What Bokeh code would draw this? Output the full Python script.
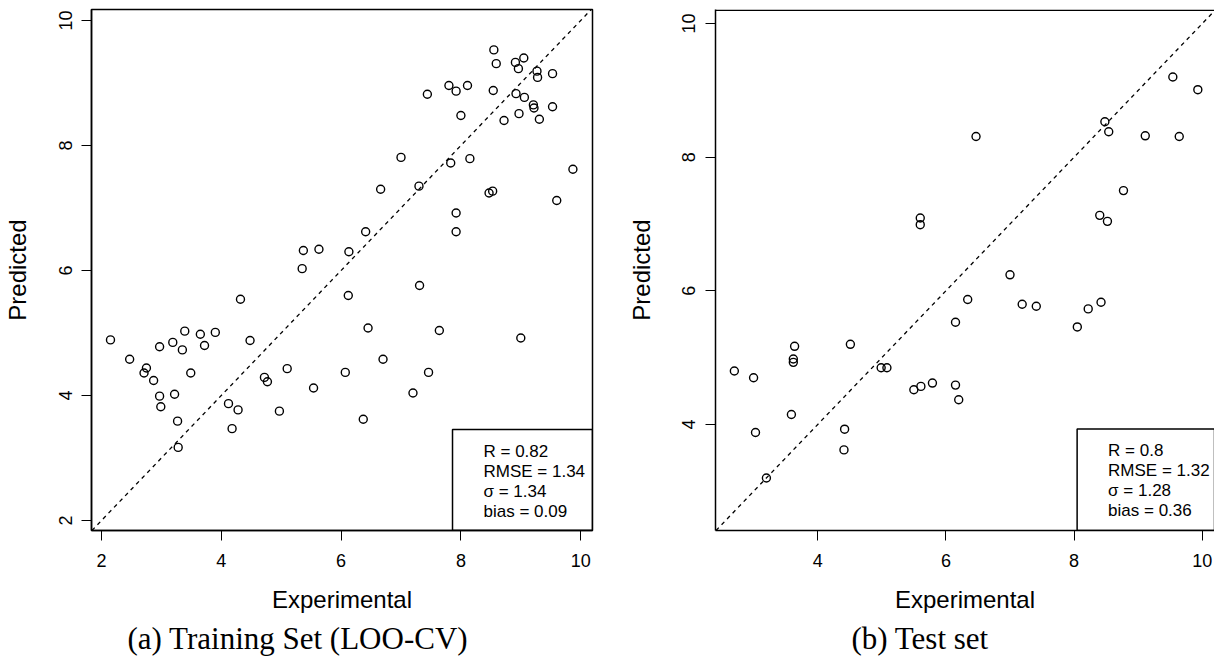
from bokeh.plotting import figure
from bokeh.models import Range1d, Slope, Label, BoxAnnotation, FixedTicker, Span, Title
from bokeh.layouts import row
from bokeh.embed import file_html
from bokeh.resources import INLINE

# ---------------- data ----------------
train_exp = [8.55, 8.59, 8.91, 9.05, 8.96, 9.27, 9.28, 9.53, 7.80, 7.92, 8.11, 7.44, 8.54, 8.92,
             9.06, 9.21, 9.22, 9.53, 8.00, 8.97, 8.72, 9.31, 7.00, 7.83, 8.15, 9.87, 6.66, 7.30,
             8.47, 8.53, 9.60, 6.41, 7.92, 7.92, 5.37, 5.63, 6.13, 5.35, 7.31, 6.12,
             2.15, 2.47, 2.71, 2.75, 2.87, 2.97, 2.97, 2.99, 3.19, 3.22, 3.27, 3.28, 3.39, 3.35,
             3.49, 3.65, 3.72, 3.90, 4.12, 4.28, 4.18, 4.48, 4.72, 4.77, 4.97, 5.10, 4.32,
             6.45, 7.64, 9.00, 6.70, 6.07, 7.46, 5.54, 7.20, 6.37]
train_pred = [9.53, 9.31, 9.33, 9.40, 9.23, 9.19, 9.09, 9.15, 8.96, 8.87, 8.96, 8.82, 8.88, 8.83,
              8.77, 8.65, 8.60, 8.62, 8.48, 8.51, 8.40, 8.42, 7.81, 7.72, 7.79, 7.62, 7.30, 7.35,
              7.24, 7.27, 7.12, 6.62, 6.92, 6.62, 6.32, 6.34, 6.30, 6.03, 5.76, 5.60,
              4.89, 4.58, 4.36, 4.44, 4.24, 4.78, 3.99, 3.82, 4.85, 4.02, 3.59, 3.17, 5.03, 4.73,
              4.36, 4.98, 4.80, 5.01, 3.87, 3.77, 3.47, 4.88, 4.29, 4.22, 3.75, 4.43, 5.54,
              5.08, 5.04, 4.92, 4.58, 4.37, 4.37, 4.12, 4.04, 3.62]

test_exp = [9.54, 9.93, 8.48, 8.54, 6.47, 9.11, 9.64, 8.77, 8.40, 8.52, 5.60, 5.60, 7.00, 6.34,
            7.19, 7.41, 8.22, 8.42, 6.15, 8.05, 5.50, 5.61, 5.79, 6.15, 6.20,
            2.70, 3.00, 3.03, 3.20, 3.59, 3.64, 3.62, 3.62, 4.51, 4.42, 4.41, 4.99, 5.08]
test_pred = [9.20, 9.01, 8.53, 8.38, 8.31, 8.32, 8.31, 7.50, 7.13, 7.04, 7.09, 6.99, 6.24, 5.87,
             5.80, 5.77, 5.73, 5.83, 5.53, 5.46, 4.52, 4.57, 4.62, 4.59, 4.37,
             4.80, 4.70, 3.88, 3.20, 4.15, 5.17, 4.98, 4.93, 5.20, 3.93, 3.62, 4.85, 4.85]

train_stats = ["R = 0.82", "RMSE = 1.34", "\u03c3 = 1.34", "bias = 0.09"]
test_stats = ["R = 0.8", "RMSE = 1.32", "\u03c3 = 1.28", "bias = 0.36"]
captions = ["(a) Training Set (LOO-CV)", "(b) Test set"]
x_label = "Experimental"
y_label = "Predicted"
train_ticks = [2, 4, 6, 8, 10]
test_ticks = [4, 6, 8, 10]

SANS = "Liberation Sans"
SERIF = "Liberation Serif"
FIG_H = 658


def style_axes(p, ticks):
    for ax in (p.xaxis[0], p.yaxis[0]):
        ax.ticker = FixedTicker(ticks=ticks)
        ax.major_tick_out = 10
        ax.major_tick_in = 0
        ax.minor_tick_line_color = None
        ax.major_tick_line_color = "black"
        ax.major_tick_line_width = 1
        ax.axis_line_color = "black"
        ax.axis_line_width = 1.5
        ax.major_label_text_font = SANS
        ax.major_label_text_font_size = "18px"
        ax.major_label_text_color = "black"
        ax.axis_label_text_font = SANS
        ax.axis_label_text_font_size = "24px"
        ax.axis_label_text_font_style = "normal"
        ax.axis_label_text_color = "black"
    p.xaxis[0].axis_label = x_label
    p.yaxis[0].axis_label = y_label
    p.yaxis[0].major_label_orientation = "vertical"
    p.xaxis[0].major_label_standoff = 13
    p.yaxis[0].major_label_standoff = 10
    p.xaxis[0].axis_label_standoff = 16
    p.yaxis[0].axis_label_standoff = 25
    p.xgrid.visible = False
    p.ygrid.visible = False
    p.background_fill_color = "white"
    p.border_fill_color = "white"


def make_panel(xs, ys, xr, yr, ticks, stats, stat_x, stat_ys, box_left, box_top,
               caption, cap_offset, width, border_left, border_right, outline):
    p = figure(width=width, height=FIG_H, x_range=Range1d(*xr), y_range=Range1d(*yr),
               output_backend="svg", toolbar_location=None,
               min_border_left=border_left, min_border_right=border_right,
               min_border_top=9, min_border_bottom=FIG_H - 9 - 521)
    style_axes(p, ticks)
    if outline:
        p.outline_line_color = "black"
        p.outline_line_width = 1.5
    else:
        p.outline_line_color = None
        p.add_layout(Span(location=yr[1] - 0.012, dimension="width", line_color="black",
                          line_width=1.5))
    p.add_layout(Slope(gradient=1, y_intercept=0, line_color="black",
                       line_dash="4 4", line_width=1.3))
    p.scatter(xs, ys, size=8, marker="circle", fill_color=None,
              line_color="black", line_width=1.4)
    p.add_layout(BoxAnnotation(left=box_left, top=box_top, fill_color="white",
                               fill_alpha=0.0, line_color="black", line_width=1.5,
                               line_alpha=1.0))
    for t, y in zip(stats, stat_ys):
        p.add_layout(Label(x=stat_x, y=y, text=t, text_font=SANS, text_font_size="17px",
                           text_baseline="middle", text_align="left", text_color="black"))
    cap = Title(text=caption, align="left", offset=cap_offset, text_font=SERIF,
                text_font_size="31px", text_font_style="normal", text_color="black",
                standoff=6)
    p.add_layout(cap, "below")
    return p


p1 = make_panel(train_exp, train_pred, (1.833, 10.197), (1.84, 10.176), train_ticks,
                train_stats, 8.377, [3.104, 2.784, 2.464, 2.144], 7.86, 3.456,
                captions[0], 36, width=610, border_left=91, border_right=18,
                outline=True)
p2 = make_panel(test_exp, test_pred, (2.406, 10.19), (2.414, 10.21), test_ticks,
                test_stats, 8.53, [3.617, 3.318, 3.019, 2.72], 8.047, 3.931,
                captions[1], 136, width=604, border_left=105, border_right=0,
                outline=False)

layout = row(p1, p2, spacing=0)
open("out.html", "w").write(file_html(layout, INLINE))
